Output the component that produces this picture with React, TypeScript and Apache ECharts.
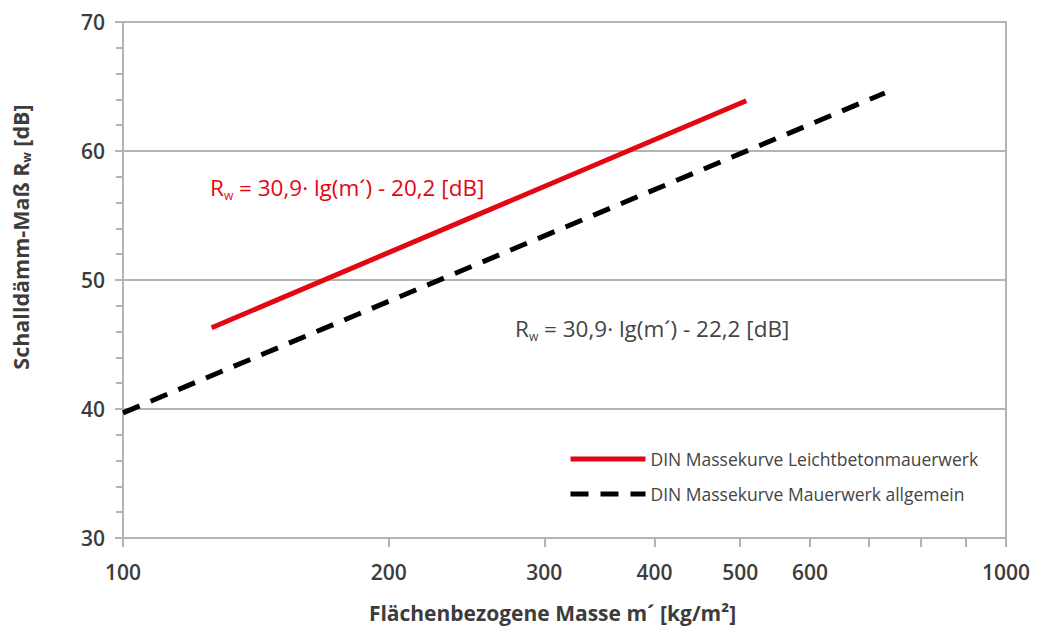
import React, { useEffect, useRef } from "react";
import * as echarts from "echarts";

const xTickValues = [100, 200, 300, 400, 500, 600, 700, 800, 900, 1000];
const xLabelValues = [100, 200, 300, 400, 500, 600, 1000];
const yMin = 30;
const yMax = 70;

const seriesNames = ["DIN Massekurve Leichtbetonmauerwerk", "DIN Massekurve Mauerwerk allgemein"];
const leichtbeton: [number, number][] = [
  [126, 46.3],
  [508, 63.9],
];
const allgemein: [number, number][] = [
  [100, 39.7],
  [729, 64.5],
];

const FONT = "Open Sans";
const AXIS_GRAY = "#b4b4b4";
const TEXT_DARK = "#3c3c3c";
const RED = "#e30613";

export default function App() {
  const ref = useRef<HTMLDivElement>(null);
  useEffect(() => {
    if (!ref.current) return;
    const chart = echarts.init(ref.current, null, { renderer: "svg" });
    chart.setOption({
      animation: false,
      backgroundColor: "#ffffff",
      grid: {
        left: 123,
        right: 38,
        top: 22,
        bottom: 95,
        containLabel: false,
        outerBoundsMode: "none",
        show: true,
        borderColor: AXIS_GRAY,
        borderWidth: 2,
        backgroundColor: "transparent",
      },
      xAxis: {
        type: "log",
        logBase: 10,
        min: 100,
        max: 1000,
        name: "Flächenbezogene Masse m´ [kg/m²]",
        nameLocation: "middle",
        nameGap: 64,
        nameTextStyle: {
          fontFamily: FONT,
          fontSize: 21,
          fontWeight: "bold",
          color: TEXT_DARK,
          padding: [0, 24, 0, 0],
        },
        axisLine: { show: true, lineStyle: { color: AXIS_GRAY, width: 2 } },
        axisTick: {
          show: true,
          length: 9,
          customValues: xTickValues,
          lineStyle: { color: AXIS_GRAY, width: 2 },
        },
        minorTick: { show: false },
        axisLabel: {
          customValues: xLabelValues,
          margin: 23,
          fontFamily: FONT,
          fontSize: 21,
          fontWeight: 600,
          color: TEXT_DARK,
          formatter: (v: number) => String(Math.round(v)),
        },
        splitLine: { show: false },
      },
      yAxis: {
        type: "value",
        min: yMin,
        max: yMax,
        interval: 10,
        axisLine: { show: true, lineStyle: { color: AXIS_GRAY, width: 2 } },
        axisTick: { show: true, inside: false, length: 8, lineStyle: { color: AXIS_GRAY, width: 2 } },
        minorTick: { show: true, splitNumber: 5, length: 7, lineStyle: { color: AXIS_GRAY, width: 2 } },
        axisLabel: {
          margin: 18,
          fontFamily: FONT,
          fontSize: 21,
          fontWeight: 600,
          color: TEXT_DARK,
        },
        splitLine: { show: true, lineStyle: { color: AXIS_GRAY, width: 2 } },
      },
      legend: {
        orient: "vertical",
        left: 563,
        top: 445,
        itemWidth: 75,
        itemHeight: 20,
        itemGap: 17,
        itemStyle: { opacity: 0 },
        lineStyle: { width: 5 },
        textStyle: { fontFamily: FONT, fontSize: 17.5, color: "#444444" },
        data: seriesNames,
      },
      series: [
        {
          name: seriesNames[0],
          type: "line",
          data: leichtbeton,
          symbol: "none",
          lineStyle: { color: RED, width: 5, cap: "butt" },
          itemStyle: { color: RED },
          z: 3,
        },
        {
          name: seriesNames[1],
          type: "line",
          data: allgemein,
          symbol: "none",
          lineStyle: { color: "#000000", width: 5, type: [18, 12], cap: "butt" },
          itemStyle: { color: "#000000" },
          z: 3,
        },
      ],
      graphic: [
        {
          type: "text",
          x: 20,
          y: 237,
          rotation: Math.PI / 2,
          style: {
            text: "{a|Schalldämm-Maß R}{s|w}{a| [dB]}",
            rich: {
              a: { fontFamily: FONT, fontSize: 21.5, fontWeight: "bold", fill: TEXT_DARK },
              s: { fontFamily: FONT, fontSize: 12, fontWeight: "bold", fill: TEXT_DARK, padding: [12, 0, 0, 0] },
            },
            align: "center",
            verticalAlign: "middle",
          },
        },
        {
          type: "text",
          x: 210,
          y: 187,
          style: {
            text: "{a|R}{s|w}{a| = 30,9· lg(m´) - 20,2 [dB]}",
            rich: {
              a: { fontFamily: FONT, fontSize: 22.5, fill: RED },
              s: { fontFamily: FONT, fontSize: 12, fill: RED, padding: [16, 0, 0, 0] },
            },
            align: "left",
            verticalAlign: "middle",
          },
        },
        {
          type: "text",
          x: 515,
          y: 328,
          style: {
            text: "{a|R}{s|w}{a| = 30,9· lg(m´) - 22,2 [dB]}",
            rich: {
              a: { fontFamily: FONT, fontSize: 22.5, fill: "#444444" },
              s: { fontFamily: FONT, fontSize: 12, fill: "#444444", padding: [16, 0, 0, 0] },
            },
            align: "left",
            verticalAlign: "middle",
          },
        },
      ],
    });
    return () => chart.dispose();
  }, []);
  return <div ref={ref} style={{ width: 1044, height: 633, position: "fixed", left: 0, top: 0 }} />;
}
